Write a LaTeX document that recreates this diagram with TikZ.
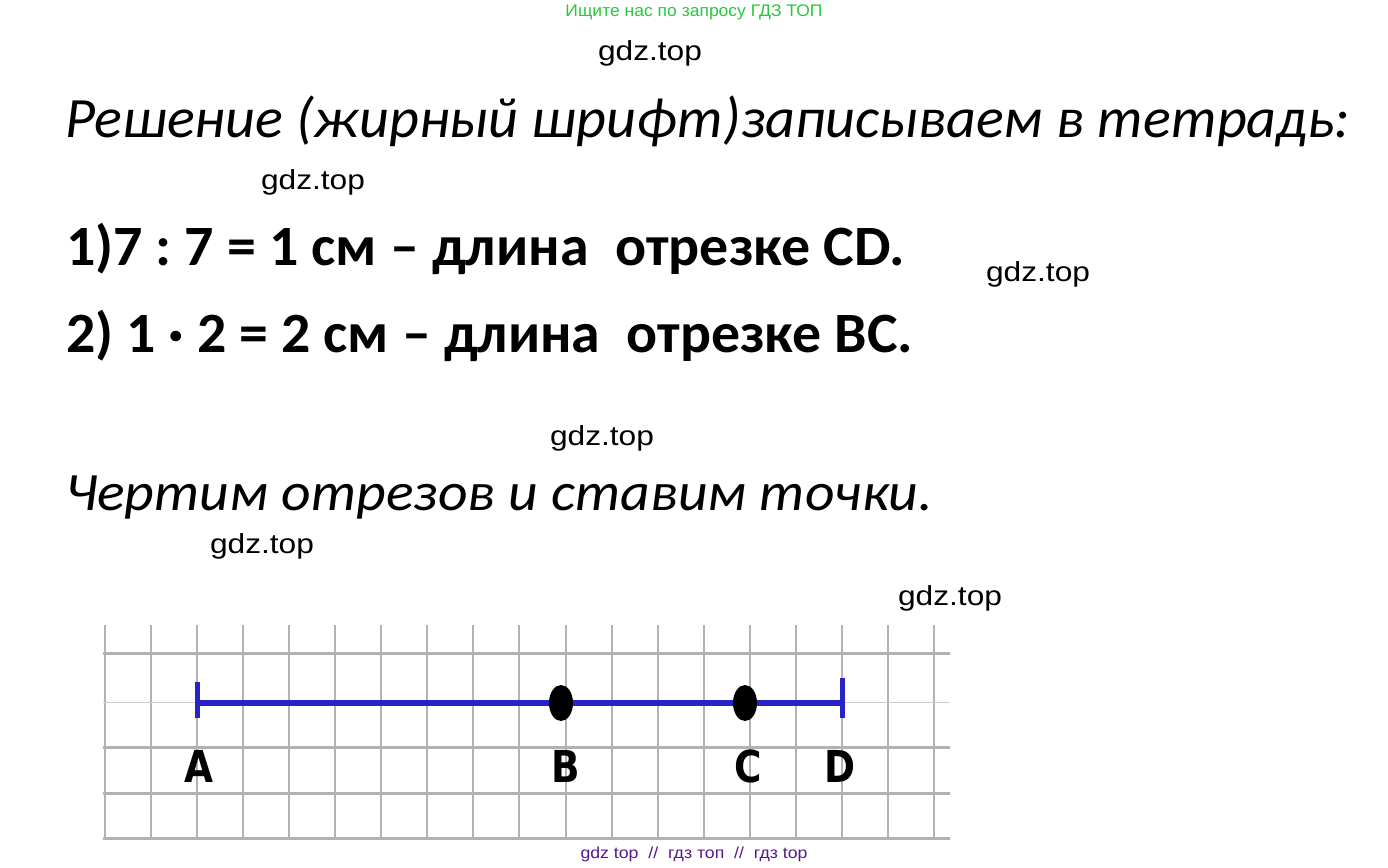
\documentclass[tikz,border=0pt]{standalone}
\usepackage{fontspec}
\usepackage{graphicx}
\setmainfont{Carlito}
\newfontfamily\wmfont{Liberation Sans}
\newfontfamily\labfont{DejaVu Sans Bold}
\frenchspacing
\definecolor{hdrgreen}{RGB}{40,200,60}
\definecolor{ftpurple}{RGB}{85,26,139}
\definecolor{segblue}{RGB}{40,35,200}
\definecolor{gridgray}{RGB}{178,178,178}
\definecolor{gridlight}{RGB}{205,205,205}
\tikzset{
  wm/.style={anchor=base, font={\wmfont\fontsize{27.5}{30}\selectfont}},
  titletxt/.style={anchor=base west, font={\itshape\fontsize{57}{60}\selectfont}},
  boldtxt/.style={anchor=base west, font={\bfseries\fontsize{57}{60}\selectfont}},
  smalltxt/.style={anchor=base west, font={\itshape\fontsize{54}{58}\selectfont}},
  ptlabel/.style={anchor=center, font={\labfont\fontsize{44}{46}\selectfont}},
  vline/.style={draw=gridgray, line width=2pt},
  hthick/.style={draw=gridgray, line width=3pt},
  hthin/.style={draw=gridlight, line width=1pt},
  seg/.style={draw=segblue, line width=6pt},
  tick/.style={draw=segblue, line width=5pt},
}
\begin{document}
\begin{tikzpicture}[x=1pt,y=-1pt, every node/.style={inner sep=0pt, outer sep=0pt}]
\useasboundingbox (0,0) rectangle (1388,867);
\fill[white] (0,0) rectangle (1388,867);

% header and footer
\node[anchor=base, text=hdrgreen, font={\wmfont\fontsize{16.8}{18}\selectfont}] (hdr) at (694,17) {\resizebox{257pt}{\height}{Ищите нас по запросу ГДЗ ТОП}};
\node[anchor=base, text=ftpurple, font={\wmfont\fontsize{16}{18}\selectfont}] (ftr) at (694,858) {\resizebox{227pt}{\height}{gdz top\ \ //\ \ гдз топ\ \ //\ \ гдз top}};

% watermarks
\node[wm] (w1) at (650,60) {\resizebox{104pt}{\height}{gdz.top}};
\node[wm] (w2) at (313,189) {\resizebox{104pt}{\height}{gdz.top}};
\node[wm] (w3) at (1038,281) {\resizebox{104pt}{\height}{gdz.top}};
\node[wm] (w4) at (602,445) {\resizebox{104pt}{\height}{gdz.top}};
\node[wm] (w5) at (262,553) {\resizebox{104pt}{\height}{gdz.top}};
\node[wm] (w6) at (950,605) {\resizebox{104pt}{\height}{gdz.top}};

% main texts
\node[titletxt] (title) at (65,137) {\resizebox{1285pt}{\height}{Решение (жирный шрифт)записываем в тетрадь:}};
\node[boldtxt] (l1) at (66,265) {\resizebox{839pt}{\height}{1)7 : 7 = 1 см – длина\ \ отрезке CD.}};
\node[boldtxt] (l2) at (66,352) {\resizebox{847pt}{\height}{2) 1 · 2 = 2 см – длина\ \ отрезке BC.}};
\node[smalltxt] (l3) at (65,510) {\resizebox{868pt}{\height}{Чертим отрезов и ставим точки.}};

% grid
\foreach \k in {-2,...,16} {
  \draw[vline] ({197+46.07*\k},625) -- ({197+46.07*\k},838);
}
\draw[hthin] (103,702) -- (950,702);
\foreach \yy in {653,747,793,838} {
  \draw[hthick] (103,\yy) -- (950,\yy);
}

% segment
\coordinate (A) at (197,703);
\coordinate (B) at (561,703);
\coordinate (C) at (745,703);
\coordinate (D) at (842,703);
\coordinate (At) at (197,682);
\coordinate (Ab) at (197,718);
\coordinate (Dt) at (842,678);
\coordinate (Db) at (842,718);
\draw[seg] (A) -- (D);
\draw[tick] (At) -- (Ab);
\draw[tick] (Dt) -- (Db);
\fill[black] (B) ellipse [x radius=12, y radius=18];
\fill[black] (C) ellipse [x radius=12, y radius=18];

% labels
\node[ptlabel] (la) at (199,766) {\scalebox{0.85}[1]{A}};
\node[ptlabel] (lb) at (566,766) {\scalebox{0.85}[1]{B}};
\node[ptlabel] (lc) at (748,766) {\scalebox{0.85}[1]{C}};
\node[ptlabel] (ld) at (840,766) {\scalebox{0.85}[1]{D}};
\end{tikzpicture}
\end{document}
